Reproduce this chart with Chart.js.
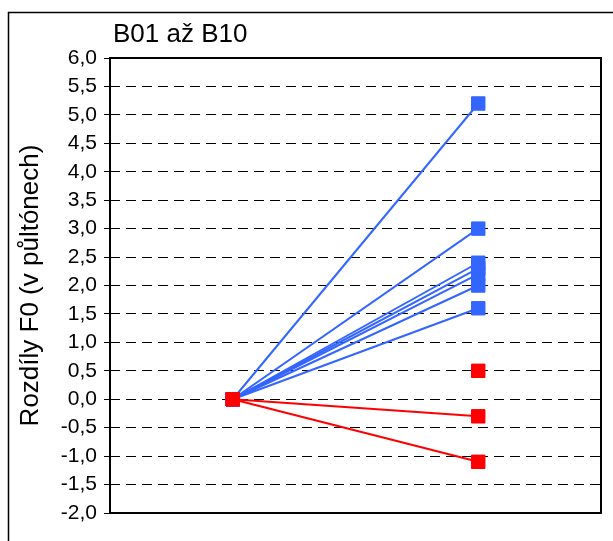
<!DOCTYPE html>
<html>
<head>
<meta charset="utf-8">
<script src="https://cdn.jsdelivr.net/npm/chart.js@4"></script>
<style>
  html, body { margin: 0; padding: 0; background: #fff; overflow: hidden; }
  #wrap { width: 613px; height: 541px; position: relative; }
</style>
</head>
<body>
<div id="wrap"><canvas id="graf" width="613" height="541"></canvas></div>
<script>
  // dvě kategorie (výchozí a cílová hodnota), popisky se nezobrazují
  const kategorie = ["start", "cil"];
  // rozdíly F0 pro B01..B10 (null = bez výchozího bodu)
  const zacatek = [0, 0, 0, 0, 0, 0, 0, null, 0, 0];
  const konec = [5.2, 3.0, 2.4, 2.3, 2.2, 2.0, 1.6, 0.5, -0.3, -1.1];
  const skupina = ["up", "up", "up", "up", "up", "up", "up", "down", "down", "down"];
  const yTicks = { min: -2, max: 6, step: 0.5 };
  const nadpis = "B01 až B10";
  const osaY = "Rozdíly F0 (v půltónech)";

  const MODRA = "#3366ff";
  const CERVENA = "#ff0000";

  const datasets = konec.map((v, i) => {
    const barva = skupina[i] === "up" ? MODRA : CERVENA;
    return {
      label: "B" + String(i + 1).padStart(2, "0"),
      data: [zacatek[i], v],
      borderColor: barva,
      backgroundColor: barva,
      borderWidth: 2,
      pointStyle: "rect",
      pointRadius: 9.5,
      pointHoverRadius: 9.5,
      pointBorderWidth: 1,
      pointBorderColor: barva,
      spanGaps: false,
      order: skupina[i] === "up" ? 1 : 0
    };
  });

  const ramecek = {
    id: "ramecek",
    beforeDraw(chart) {
      const ctx = chart.ctx;
      ctx.save();
      ctx.fillStyle = "#fff";
      ctx.fillRect(0, 0, chart.width, chart.height);
      ctx.strokeStyle = "#000";
      ctx.lineWidth = 1.5;
      ctx.strokeRect(8.5, 12.5, 800, 800);
      ctx.restore();
    },
    afterDraw(chart) {
      const ctx = chart.ctx;
      const a = chart.chartArea;
      ctx.save();
      ctx.strokeStyle = "#000";
      ctx.lineWidth = 2;
      ctx.strokeRect(a.left, a.top, a.right - a.left, a.bottom - a.top);
      ctx.fillStyle = "#000";
      ctx.font = "26px 'Liberation Sans', Arial, sans-serif";
      ctx.textBaseline = "alphabetic";
      ctx.textAlign = "left";
      ctx.fillText(nadpis, 113, 42);
      ctx.restore();
    }
  };

  new Chart(document.getElementById("graf"), {
    type: "line",
    data: { labels: kategorie, datasets: datasets },
    options: {
      responsive: false,
      animation: false,
      layout: { padding: { top: 58, right: 12, bottom: 28, left: 0 } },
      plugins: {
        legend: { display: false },
        tooltip: { enabled: false },
        title: { display: false }
      },
      scales: {
        x: {
          type: "category",
          offset: true,
          ticks: { display: false },
          grid: { display: false, drawTicks: false },
          border: { display: false }
        },
        y: {
          min: yTicks.min,
          max: yTicks.max,
          afterFit: s => { s.width = 110; },
          ticks: {
            stepSize: yTicks.step,
            padding: 7,
            color: "#000",
            font: { family: "'Liberation Sans', Arial, sans-serif", size: 21 },
            callback: v => v.toFixed(1).replace(".", ",")
          },
          grid: {
            color: "#000",
            lineWidth: 1,
            tickLength: 6,
            tickColor: "#000",
            tickWidth: 1
          },
          border: { display: false, dash: [10, 6] },
          title: {
            display: true,
            text: osaY,
            color: "#000",
            font: { family: "'Liberation Sans', Arial, sans-serif", size: 26 },
            padding: { top: 15, bottom: 0 }
          }
        }
      }
    },
    plugins: [ramecek]
  });
</script>
</body>
</html>
